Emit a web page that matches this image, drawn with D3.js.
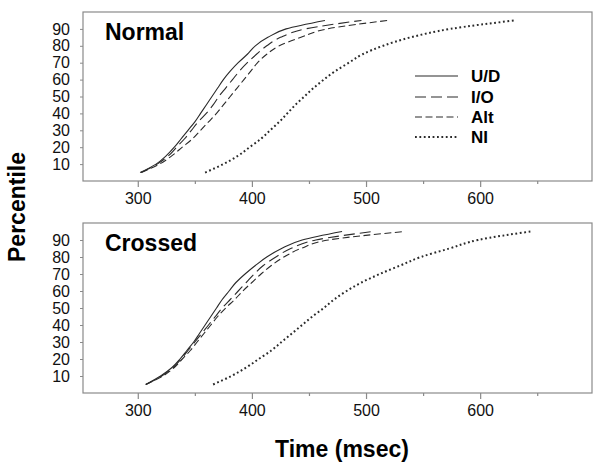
<!DOCTYPE html>
<html>
<head>
<meta charset="utf-8">
<script src="https://cdn.jsdelivr.net/npm/d3@7"></script>
<style>
  html, body { margin: 0; padding: 0; background: #fff; }
  svg { display: block; font-family: "Liberation Sans", Arial, Helvetica, sans-serif; }
</style>
</head>
<body>
<svg id="chart" width="600" height="465"></svg>
<script>
// ---- Data ----
const percentiles = [5,10,15,20,25,30,35,40,45,50,55,60,65,70,75,80,85,90,95];

const normalUD  = [302,316,325,332,338,344,350,355,360,365,370,375,381,388,396,403,414,430,464];
const normalIO  = [303,317,327,334,341,347,353,360,366,371,377,383,389,396,404,413,425,447,496];
const normalAlt = [303,319,330,339,348,355,362,369,375,381,387,393,399,405,413,424,443,466,519];
const normalNI  = [359,375,388,398,408,416,424,431,438,446,454,463,473,485,497,515,539,574,630];

const crossedUD  = [307,320,330,337,343,349,354,359,364,369,374,380,386,394,403,413,426,444,479];
const crossedIO  = [307,321,331,338,344,350,356,362,368,374,381,388,395,402,410,421,434,456,506];
const crossedAlt = [307,322,332,339,346,352,358,364,370,377,385,392,400,408,417,428,443,467,534];
const crossedNI  = [366,382,395,406,417,426,435,444,453,463,472,483,496,512,530,548,573,598,644];

const seriesNames = ["U/D", "I/O", "Alt", "NI"];
const panelNames = ["Normal", "Crossed"];
const xTickValues = [300, 400, 500, 600];
const xMinorTickValues = [350, 450, 550, 650];
const yTickValues = [10, 20, 30, 40, 50, 60, 70, 80, 90];
const xAxisTitle = "Time (msec)";
const yAxisTitle = "Percentile";

// ---- Styles ----
const dashStyles = {
  "U/D": { dash: null, width: 1.1 },
  "I/O": { dash: "11,5", width: 1.1 },
  "Alt": { dash: "7,3.5", width: 1.1 },
  "NI":  { dash: "1.8,2.6", width: 2 }
};
const lineColor = "#2a2a2a";
const boxColor = "#8a8a8a";

const svg = d3.select("#chart");

const x = d3.scaleLinear().domain([252, 698]).range([83, 592]);

const panels = [
  { name: panelNames[0], top: 12, bottom: 181,
    data: [normalUD, normalIO, normalAlt, normalNI], legend: true },
  { name: panelNames[1], top: 223, bottom: 393,
    data: [crossedUD, crossedIO, crossedAlt, crossedNI], legend: false }
];

panels.forEach(p => {
  const y = d3.scaleLinear().domain([0, 100]).range([p.bottom, p.top]);
  const g = svg.append("g");

  // box
  g.append("rect")
    .attr("x", x.range()[0]).attr("y", p.top)
    .attr("width", x.range()[1] - x.range()[0])
    .attr("height", p.bottom - p.top)
    .attr("fill", "none").attr("stroke", boxColor).attr("stroke-width", 1.2);

  // x axis (major)
  const xAxis = d3.axisBottom(x).tickValues(xTickValues).tickSize(6).tickPadding(6)
    .tickFormat(d3.format("d"));
  const xa = g.append("g").attr("transform", `translate(0,${p.bottom})`).call(xAxis);
  xa.select(".domain").remove();
  xa.selectAll(".tick line").attr("stroke", boxColor).attr("stroke-width", 1.2);
  xa.selectAll(".tick text").attr("font-size", 16).attr("fill", "#111")
    .attr("font-family", "'Liberation Sans', Arial, sans-serif");

  // x axis (minor)
  const xMinor = d3.axisBottom(x).tickValues(xMinorTickValues).tickSize(3).tickFormat("");
  const xm = g.append("g").attr("transform", `translate(0,${p.bottom})`).call(xMinor);
  xm.select(".domain").remove();
  xm.selectAll(".tick line").attr("stroke", boxColor).attr("stroke-width", 1.2);

  // y axis
  const yAxis = d3.axisLeft(y).tickValues(yTickValues).tickSize(3).tickPadding(10);
  const ya = g.append("g").attr("transform", `translate(${x.range()[0]},0)`).call(yAxis);
  ya.select(".domain").remove();
  ya.selectAll(".tick line").attr("stroke", boxColor);
  ya.selectAll(".tick text").attr("font-size", 16).attr("fill", "#111")
    .attr("font-family", "'Liberation Sans', Arial, sans-serif");

  // panel label
  g.append("text")
    .attr("x", 105).attr("y", p.top + 28)
    .attr("font-size", 23).attr("font-weight", "bold").attr("fill", "#000")
    .text(p.name);

  // curves
  const line = d3.line()
    .x(d => x(d[0])).y(d => y(d[1]))
    .curve(d3.curveMonotoneY);

  p.data.forEach((vals, i) => {
    const st = dashStyles[seriesNames[i]];
    const pts = vals.map((v, k) => [v, percentiles[k]]);
    const path = g.append("path")
      .datum(pts)
      .attr("d", line)
      .attr("fill", "none")
      .attr("stroke", lineColor)
      .attr("stroke-width", st.width);
    if (st.dash) path.attr("stroke-dasharray", st.dash);
  });

  // legend
  if (p.legend) {
    const rowsY = [76, 97, 117, 137];
    seriesNames.forEach((nm, i) => {
      const st = dashStyles[nm];
      const ln = g.append("line")
        .attr("x1", 415).attr("x2", 458)
        .attr("y1", rowsY[i]).attr("y2", rowsY[i])
        .attr("stroke", lineColor).attr("stroke-width", st.width);
      if (st.dash) ln.attr("stroke-dasharray", st.dash);
      g.append("text")
        .attr("x", 471).attr("y", rowsY[i] + 6)
        .attr("font-size", 17).attr("font-weight", "bold").attr("fill", "#000")
        .text(nm);
    });
  }
});

// axis titles
svg.append("text")
  .attr("x", 342).attr("y", 457)
  .attr("text-anchor", "middle")
  .attr("font-size", 23).attr("font-weight", "bold").attr("fill", "#000")
  .text(xAxisTitle);

svg.append("text")
  .attr("transform", "translate(25,207) rotate(-90)")
  .attr("text-anchor", "middle")
  .attr("font-size", 23).attr("font-weight", "bold").attr("fill", "#000")
  .text(yAxisTitle);
</script>
</body>
</html>
